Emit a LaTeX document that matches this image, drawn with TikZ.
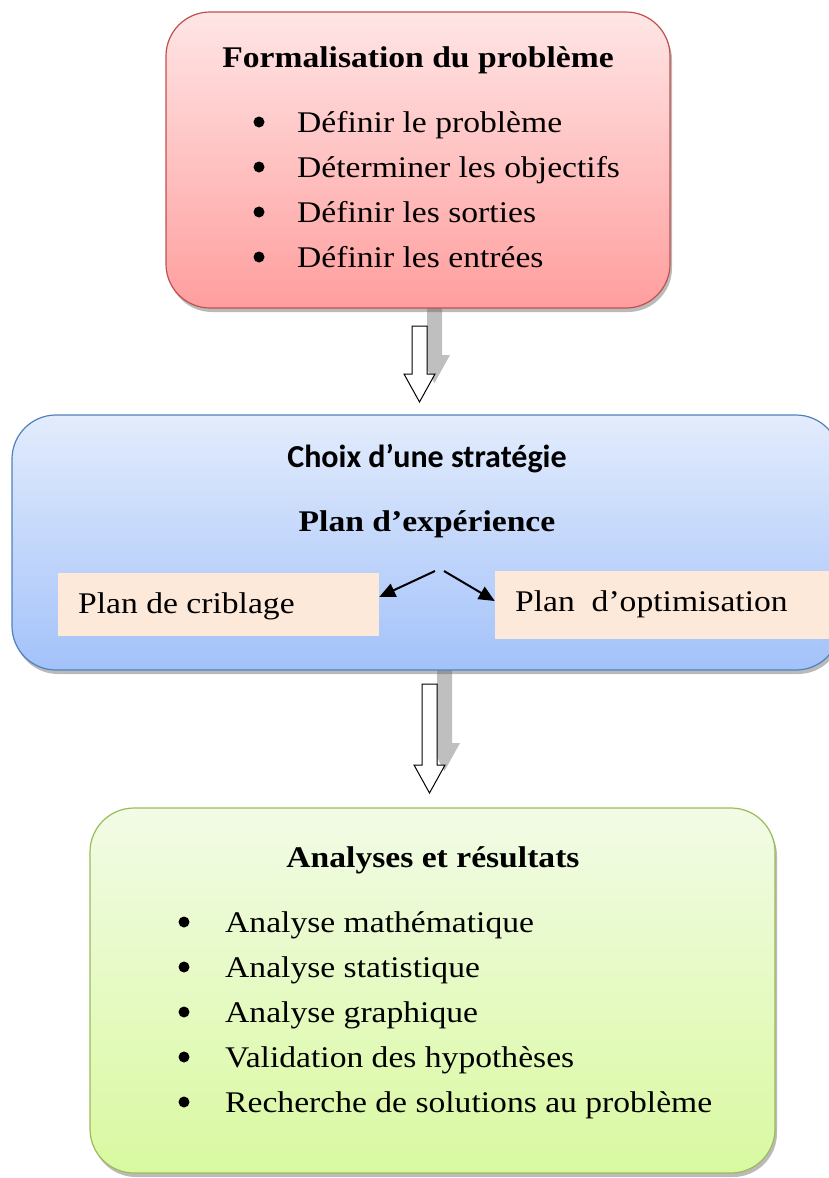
\documentclass[tikz,border=0pt]{standalone}
\usepackage{fontspec}
\setmainfont[FakeStretch=1.12]{Liberation Serif}
\newfontfamily\calibrisub{Carlito}
\usetikzlibrary{shadows,arrows.meta}
\definecolor{redline}{RGB}{192,80,77}
\definecolor{bluline}{RGB}{79,129,189}
\definecolor{grnline}{RGB}{155,187,89}
\definecolor{peach}{RGB}{253,233,217}
\tikzset{
  phasebox/.style={rectangle, rounded corners=44pt, line width=1.2pt, inner sep=0pt,
    drop shadow={shadow xshift=2pt, shadow yshift=-4pt, opacity=0.45, fill=black!60}},
  subbox/.style={rectangle, fill=peach, inner sep=0pt, anchor=center},
  item/.style={anchor=west, inner sep=0pt, text height=22pt, text depth=2pt, font=\fontsize{30}{36}\selectfont},
  puce/.style={circle, fill=black, inner sep=0pt, minimum size=11pt},
  titre/.style={font=\fontsize{30}{36}\selectfont\bfseries},
}
% hollow block arrow: (centre x, top, head start, tip)
\def\blockarrow[#1](#2,#3,#4,#5){\draw[#1] (#2-7.5,#3) -- (#2+7.5,#3) -- (#2+7.5,#4) -- (#2+15.5,#4) -- (#2,#5) -- (#2-15.5,#4) -- (#2-7.5,#4) -- cycle;}

\begin{document}
\begin{tikzpicture}[x=1pt,y=-1pt]
	%%%%% START %%%%%
	\useasboundingbox (0,0) rectangle (828,1178);
	
	% arrow shadows first
	\blockarrow[fill=black!25, draw=none](434.5,300,355,383);
	\blockarrow[fill=black!25, draw=none](444.5,660,743,771);
	
	\node[phasebox, draw=redline, top color=red!10, bottom color=red!38, minimum width=504pt, minimum height=296pt] (formal) at (418,160) {};
	\node[phasebox, draw=bluline, top color={rgb,255:red,227;green,236;blue,252}, bottom color={rgb,255:red,163;green,194;blue,250}, minimum width=828pt, minimum height=255pt] (strat) at (426,542.5) {};
	\node[phasebox, draw=grnline, top color={rgb,255:red,242;green,251;blue,230}, bottom color={rgb,255:red,217;green,249;blue,160}, minimum width=685pt, minimum height=365pt] (analyses) at (432.5,990.5) {};
	
	\blockarrow[fill=white, draw=black, line width=1pt](419.5,326,374,402);
	\blockarrow[fill=white, draw=black, line width=1pt](429.5,684,765,793);
	
	% formalisation
	\node[titre] (titreA) at (418,60) {Formalisation du problème};
	\foreach \y/\t [count=\i] in {122/Définir le problème, 167/Déterminer les objectifs, 212/Définir les sorties, 257/Définir les entrées}{
		\node[puce] (pA\i) at (259,\y) {};
		\node[item] (iA\i) at (297,\y) {\t};
	}
	
	% strategie
	\node[font=\fontsize{32}{36}\calibrisub\bfseries] (titreB) at (427,459) {Choix d’une stratégie};
	\node[titre] (plan) at (427,524) {Plan d’expérience};
	\node[subbox, minimum width=321pt, minimum height=63pt] (crib) at (218.5,604.5) {};
	\node[subbox, minimum width=345pt, minimum height=68pt] (optim) at (667.5,605) {};
	\node[item] (tcrib) at (78,603) {Plan de criblage};
	\node[item] (toptim) at (515,601) {Plan\ \ d’optimisation};
	\coordinate (fourche) at (440,571);
	\draw[line width=2pt, -{Triangle[length=16pt, width=14pt]}] ([xshift=-5pt]fourche) -- (crib.east |- 0,597);
	\draw[line width=2pt, -{Triangle[length=16pt, width=14pt]}] ([xshift=4pt]fourche) -- (optim.west |- 0,601);
	
	% analyses
	\node[titre] (titreC) at (433,860) {Analyses et résultats};
	\foreach \y/\t [count=\i] in {922/Analyse mathématique, 967/Analyse statistique, 1012/Analyse graphique, 1057/Validation des hypothèses, 1102/Recherche de solutions au problème}{
		\node[puce] (pC\i) at (184,\y) {};
		\node[item] (iC\i) at (225,\y) {\t};
	}
	%%%%% END %%%%%
\end{tikzpicture}
\end{document}
